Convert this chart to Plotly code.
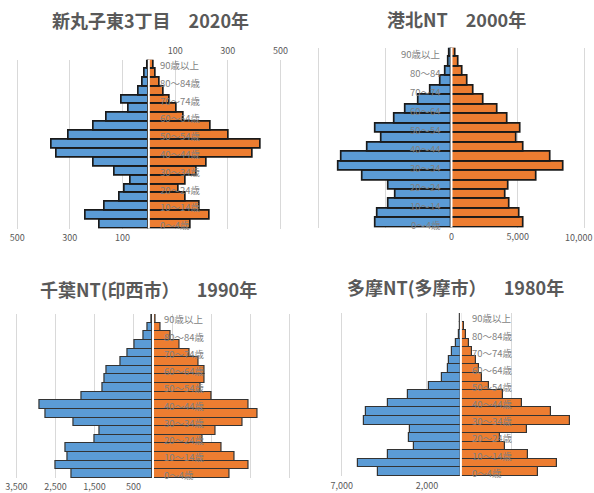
import plotly.graph_objects as go

# Canvas size in pixels
W, H = 594, 493

# Age groups, youngest first (bottom of each pyramid)
age_groups = ["0～4歳", "5～9歳", "10～14歳", "15～19歳", "20～24歳", "25～29歳",
              "30～34歳", "35～39歳", "40～44歳", "45～49歳", "50～54歳", "55～59歳",
              "60～64歳", "65～69歳", "70～74歳", "75～79歳", "80～84歳", "85～89歳",
              "90歳以上"]
age_groups_short = ["0～4歳", "5～9", "10～14", "15～19", "20～24", "25～29",
                    "30～34", "35～39", "40～44", "45～49", "50～54", "55～59",
                    "60～64", "65～69", "70～74", "75～79", "80～84", "85～89",
                    "90歳以上"]

# Population by age group (persons)
male_shinmaruko_2020 = [188, 240, 169, 112, 90, 69, 131, 210, 350, 369, 306, 210, 159, 75, 102, 40, 25, 15, 6]
female_shinmaruko_2020 = [158, 230, 194, 140, 115, 140, 182, 219, 395, 425, 302, 235, 132, 105, 80, 55, 42, 27, 19]

male_kohoku_2000 = [5750, 5550, 4720, 4220, 4720, 6680, 8520, 8320, 6350, 5300, 5750, 4290, 3470, 2480, 1560, 820, 450, 250, 150]
female_kohoku_2000 = [5410, 5120, 4400, 4060, 4270, 6450, 8420, 7480, 5400, 4900, 5200, 4260, 3470, 2450, 1640, 1240, 820, 500, 300]

male_chiba_1990 = [2080, 2500, 2200, 2250, 1500, 1360, 2030, 2760, 2910, 1840, 1300, 1250, 1200, 830, 650, 480, 250, 130, 40]
female_chiba_1990 = [1970, 2460, 2090, 1760, 1270, 1590, 2290, 2670, 2460, 1510, 1220, 1330, 1330, 1170, 930, 680, 440, 200, 60]

male_tama_1980 = [4880, 6050, 4260, 2760, 3050, 3000, 5680, 5580, 4300, 3090, 1890, 1090, 760, 720, 510, 270, 140, 70, 40]
female_tama_1980 = [4530, 5660, 3950, 2590, 2300, 3870, 6400, 5270, 3600, 2450, 1670, 1230, 1050, 900, 640, 470, 310, 175, 60]

# Titles
titles = ["新丸子東3丁目　2020年", "港北NT　2000年", "千葉NT(印西市）　  1990年", "多摩NT(多摩市）　  1980年"]

BLUE = "#5B9BD5"
ORANGE = "#ED7D31"
GRID = "#d9d9d9"
TEXT = "#595959"
LABEL = "#7f7f7f"
FONT = "Noto Sans CJK JP"


def fx(p):
    return p / W


def fy(p):
    return 1 - p / H


# Layout of each pyramid: zero line pixel, px per person, x range, plot top/bottom px
panels = [
    dict(male=male_shinmaruko_2020, female=female_shinmaruko_2020, labels=age_groups,
         c=145.8, s=0.265, rng=(-540, 540), top=60, bottom=230, standoff=2,
         title_xy=(147, 20), label_side="right", edge="#1a1a1a", ew=1.7),
    dict(male=male_kohoku_2000, female=female_kohoku_2000, labels=age_groups_short,
         c=450.5, s=0.01335, rng=(-10400, 10400), top=48, bottom=229, standoff=2,
         title_xy=(456, 19), label_side="left", edge="#1a1a1a", ew=1.7),
    dict(male=male_chiba_1990, female=female_chiba_1990, labels=age_groups,
         c=150.0, s=0.0393, rng=(-3700, 3700), top=316, bottom=481, standoff=2,
         title_xy=(145, 291), label_side="right", edge="#333333", ew=1.2),
    dict(male=male_tama_1980, female=female_tama_1980, labels=age_groups,
         c=460.0, s=0.01713, rng=(-7400, 7800), top=315, bottom=479, standoff=3,
         title_xy=(455, 289), label_side="right", edge="#333333", ew=1.2),
]

# Tick positions and texts per panel (bottom axis)
bottom_ticks = [
    ([-500, -300, -100, 100, 300, 500], ["500", "300", "100", "", "", ""]),
    ([-10000, -5000, 0, 5000, 10000], ["", "", "0", "5,000", ""]),
    ([-3500, -2500, -1500, -500, 500, 1500, 2500, 3500],
     ["3,500", "2,500", "1,500", "500", "", "", "", ""]),
    ([-7000, -2000, 3000], ["7,000", "2,000", ""]),
]
top_ticks_panel1 = ([100, 300, 500], ["100", "300", "500"])
# Outermost value label of the 2000 pyramid, set flush with the right edge
edge_tick_panel2 = "10,000"

fig = go.Figure()
layout = dict(
    width=W, height=H, margin=dict(l=0, r=0, t=0, b=0),
    paper_bgcolor="white", plot_bgcolor="white",
    barmode="relative", bargap=0, showlegend=False,
    font=dict(family=FONT, color=TEXT),
)
annotations = []
shapes = []

for i, p in enumerate(panels, start=1):
    xa = "x" if i == 1 else f"x{i}"
    ya = "y" if i == 1 else f"y{i}"
    xkey = "xaxis" if i == 1 else f"xaxis{i}"
    ykey = "yaxis" if i == 1 else f"yaxis{i}"
    lo, hi = p["rng"]
    x0 = p["c"] + lo * p["s"]
    x1 = p["c"] + hi * p["s"]

    fig.add_trace(go.Bar(
        y=age_groups, x=[-v for v in p["male"]], orientation="h",
        xaxis=xa, yaxis=ya, name="男",
        marker=dict(color=BLUE, line=dict(color=p["edge"], width=p["ew"])),
    ))
    fig.add_trace(go.Bar(
        y=age_groups, x=p["female"], orientation="h",
        xaxis=xa, yaxis=ya, name="女",
        marker=dict(color=ORANGE, line=dict(color=p["edge"], width=p["ew"])),
    ))

    tv, tt = bottom_ticks[i - 1]
    layout[xkey] = dict(
        domain=[fx(x0), fx(x1)], anchor=ya, range=[lo, hi], side="bottom",
        tickmode="array", tickvals=tv, ticktext=tt,
        showgrid=True, gridcolor=GRID, gridwidth=1, zeroline=False,
        showline=False, ticks="", ticklabelstandoff=p["standoff"],
        tickfont=dict(size=9, color=TEXT, family=FONT),
        fixedrange=True,
    )
    layout[ykey] = dict(
        domain=[fy(p["bottom"]), fy(p["top"])], anchor=xa,
        type="category", categoryorder="array", categoryarray=age_groups,
        range=[-0.5, len(age_groups) - 0.5],
        showticklabels=False, showgrid=False, zeroline=False, showline=False,
        ticks="", fixedrange=True,
    )

    # White divider between the two halves
    shapes.append(dict(type="line", xref=xa, yref=f"{ya} domain",
                       x0=0, x1=0, y0=0, y1=1,
                       line=dict(color="white", width=2), layer="above"))

    # Age labels on every other group
    for k in range(0, len(age_groups), 2):
        if p["label_side"] == "right":
            annotations.append(dict(
                xref=xa, yref=ya, x=0, y=age_groups[k], text=p["labels"][k],
                xanchor="left", yanchor="middle", xshift=9, yshift=-1, showarrow=False,
                font=dict(size=9.5, color=LABEL, family=FONT),
            ))
        else:
            annotations.append(dict(
                xref=xa, yref=ya, x=0, y=age_groups[k], text=p["labels"][k],
                xanchor="right", yanchor="middle", xshift=-8, yshift=-2, showarrow=False,
                font=dict(size=9.5, color=LABEL, family=FONT),
            ))

    # Panel title
    tx, ty = p["title_xy"]
    annotations.append(dict(
        xref="paper", yref="paper", x=fx(tx), y=fy(ty), text=f"<b>{titles[i - 1]}</b>",
        xanchor="center", yanchor="middle", showarrow=False,
        font=dict(size=18, color=TEXT, family=FONT),
    ))

# Last tick label of the 2000 pyramid, kept inside the canvas
annotations.append(dict(
    xref="paper", yref="paper", x=1, y=fy(239), text=edge_tick_panel2,
    xanchor="right", yanchor="middle", showarrow=False,
    font=dict(size=9, color=TEXT, family=FONT),
))

# Second (top) value axis for the first pyramid
fig.add_trace(go.Scatter(x=[None], y=[None], xaxis="x5", yaxis="y",
                         mode="markers", hoverinfo="skip", showlegend=False))
p1 = panels[0]
layout["xaxis5"] = dict(
    overlaying="x", anchor="y", side="top", range=list(p1["rng"]),
    tickmode="array", tickvals=top_ticks_panel1[0], ticktext=top_ticks_panel1[1],
    showgrid=False, zeroline=False, showline=False, ticks="", ticklabelstandoff=3,
    tickfont=dict(size=9, color=TEXT, family=FONT), fixedrange=True,
)

layout["annotations"] = annotations
layout["shapes"] = shapes
fig.update_layout(**layout)

fig.write_html("out.html")
